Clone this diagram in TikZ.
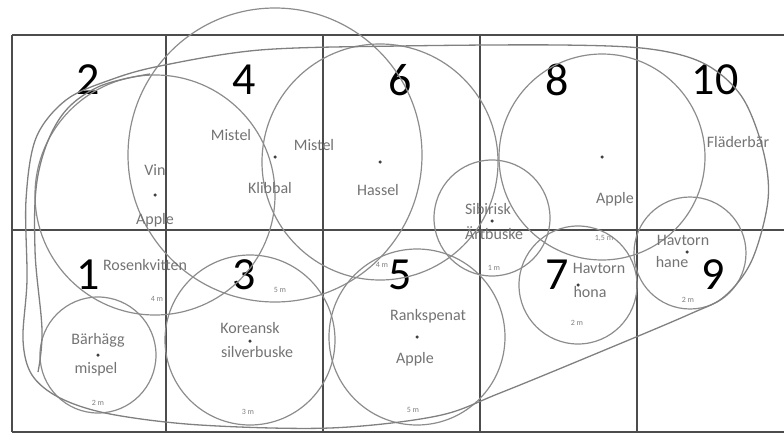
\documentclass[tikz,border=0pt]{standalone}
\usepackage{fontspec}
\setmainfont{Carlito}
\begin{document}
\begin{tikzpicture}[x=1pt,y=-1pt,
    cellline/.style={draw=black!70, line width=1.1pt},
    plant/.style={draw=black!45, line width=1.2pt},
    border/.style={draw=black!50, line width=1.3pt},
    num/.style={font=\fontsize{46}{46}\selectfont, text=black, inner sep=0pt},
    lbl/.style={font=\fontsize{16}{17}\selectfont, text=black!55, inner sep=0pt},
    size/.style={font=\fontsize{8}{8}\selectfont, text=black!50, inner sep=0pt},
    stem/.style={circle, fill=black!75, inner sep=0pt, minimum size=3.5pt}]
\useasboundingbox (0,0) rectangle (784,436);
% rutnät : 5 kolumner och 2 rader
\def\top{35}
\def\mid{230}
\def\bot{432}
\foreach \y in {\top,\mid,\bot} \draw[cellline] (12,\y) -- (784,\y);
\foreach \x in {12,166,323,480,637} \draw[cellline] (\x,\top) -- (\x,\bot);

% rutornas nummer
\foreach \n/\x/\y in {1/88/275, 2/88/80, 3/244/275, 4/244/80, 5/400/275, 6/400/80, 7/557/275, 8/557/80, 9/713/275, 10/715/80}
    \node[num] (cell\n) at (\x,\y) {\n};

% kronor
\foreach \cx/\cy/\r in {155/195/120pt, 275/155/147pt, 380/162/118pt, 250/340/85pt, 98/355/58pt, 417/337/88pt, 492/218/58pt, 602/157/103pt, 578/285/59pt, 690/253/56pt}
    \draw[plant] (\cx,\cy) circle (\r);

% ytterkant
\draw[border] plot[smooth cycle, tension=0.55] coordinates {(26,200) (36,138) (66,100) (110,80) (160,66) (260,50) (400,46) (560,45) (650,49) (705,64) (742,97) (763,150) (768,200) (752,260) (725,296) (690,314) (600,352) (500,393) (437,416) (330,428) (200,425) (110,414) (60,398) (32,375) (23,340) (27,280)};
\draw[border] plot[smooth, tension=0.6] coordinates {(150,74) (98,87) (60,118) (38,175) (35,250) (42,330) (38,372)};

% stammar
\foreach \s/\x/\y in {vin/155/195, klibbal/275/157, hassel/380/162, sibirisk/492/221, applea/602/157, barhagg/98/355, koreansk/250/341, rank/417/337, hona/578/285, hane/687/252}
    \node[stem] (\s) at (\x,\y) {};

% växter
\node[lbl] (tVin) at (155,170) {Vin};
\node[lbl] (tApple2) at (155,220) {Apple};
\node[lbl] (tMistelA) at (231,135) {Mistel};
\node[lbl] (tMistelB) at (314,145) {Mistel};
\node[lbl] (tKlibbal) at (270,188) {Klibbal};
\node[lbl] (tHassel) at (378,190) {Hassel};
\node[lbl] (tSibirisk) at (488,209) {Sibirisk};
\node[lbl] (tArt) at (494,233) {Ärtbuske};
\node[lbl] (tApple8) at (615,199) {Apple};
\node[lbl] (tFlader) at (738,142) {Fläderbär};
\node[lbl] (tRosen) at (145,265) {Rosenkvitten};
\node[lbl] (tBarhagg) at (98,340) {Bärhägg};
\node[lbl] (tMispel) at (96,369) {mispel};
\node[lbl] (tKoreansk) at (250,328) {Koreansk};
\node[lbl] (tSilver) at (257,352) {silverbuske};
\node[lbl] (tRank) at (428,316) {Rankspenat};
\node[lbl] (tApple5) at (415,359) {Apple};
\node[lbl] (tHavtornA) at (599,268) {Havtorn};
\node[lbl] (tHona) at (590,292) {hona};
\node[lbl] (tHavtornB) at (683,240) {Havtorn};
\node[lbl] (tHane) at (672,262) {hane};

% storlekar
\node[size] (s1) at (494,268) {1 m};
\node[size] (s2) at (604,238) {1,5 m};
\node[size] (s3) at (157,299) {4 m};
\node[size] (s4) at (280,290) {5 m};
\node[size] (s5) at (382,265) {4 m};
\node[size] (s6) at (98,403) {2 m};
\node[size] (s7) at (248,412) {3 m};
\node[size] (s8) at (413,410) {5 m};
\node[size] (s9) at (577,323) {2 m};
\node[size] (s10) at (688,300) {2 m};
\end{tikzpicture}
\end{document}
